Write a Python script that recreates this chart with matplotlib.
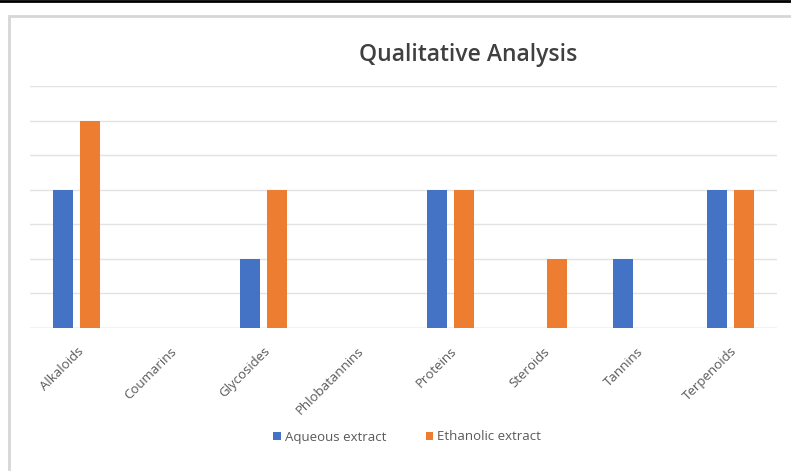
import matplotlib
matplotlib.use("Agg")
import matplotlib.pyplot as plt
from matplotlib.patches import Rectangle
from matplotlib.lines import Line2D
import numpy as np

categories = ["Alkaloids", "Coumarins", "Glycosides", "Phlobatannins",
              "Proteins", "Steroids", "Tannins", "Terpenoids"]
aqueous = [2, 0, 1, 0, 2, 0, 1, 2]
ethanolic = [3, 0, 2, 0, 2, 1, 0, 2]
series_names = ["Aqueous extract", "Ethanolic extract"]
title = "Qualitative Analysis"

W, H = 791, 471
fig = plt.figure(figsize=(W / 100, H / 100), dpi=100)
fig.patch.set_facecolor("white")

# top black line and chart frame
fig.add_artist(Line2D([0, 1], [1 - 1 / H, 1 - 1 / H], color="black", lw=2,
                      transform=fig.transFigure))
fig.add_artist(Rectangle((9 / W, -0.05), 1.1, 1 - 16 / H + 0.05,
                         transform=fig.transFigure, fill=False,
                         edgecolor="#d6d6d6", lw=2))

ax = fig.add_axes([30 / W, 1 - 328 / H, 747 / W, (328 - 86) / H])
x = np.arange(len(categories))
bw = 0.215
off = 0.146
ax.bar(x - off, aqueous, bw, color="#4472C4", label=series_names[0], zorder=3)
ax.bar(x + off, ethanolic, bw, color="#ED7D31", label=series_names[1], zorder=3)

ax.set_xlim(-0.5, len(categories) - 0.5)
ax.set_ylim(0, 3.5)
ax.set_yticks(np.arange(0, 3.51, 0.5))
ax.yaxis.grid(True, color="#e3e3e3", lw=1, zorder=0)
ax.tick_params(axis="y", length=0, labelleft=False)
ax.tick_params(axis="x", length=0, pad=12)
for s in ax.spines.values():
    s.set_visible(False)
ax.axhline(0, color="#d9d9d9", lw=1, zorder=2)
ax.set_xticks(x)
ax.set_xticklabels(categories, rotation=45, ha="right", rotation_mode="anchor",
                   fontsize=9.5, color="#595959", family="Open Sans")

fig.text(468 / W, 1 - 55 / H, title, ha="center", va="center", fontsize=16.5,
         color="#404040", family="Open Sans", weight="semibold")

leg = fig.legend(loc="center", bbox_to_anchor=(407 / W, 1 - 437 / H), ncol=2,
                 frameon=False, handlelength=0.6, handleheight=0.6,
                 handletextpad=0.3, columnspacing=3.0,
                 prop={"family": "Open Sans", "size": 9.5})
for t in leg.get_texts():
    t.set_color("#595959")

fig.savefig("out.png", dpi=100)
